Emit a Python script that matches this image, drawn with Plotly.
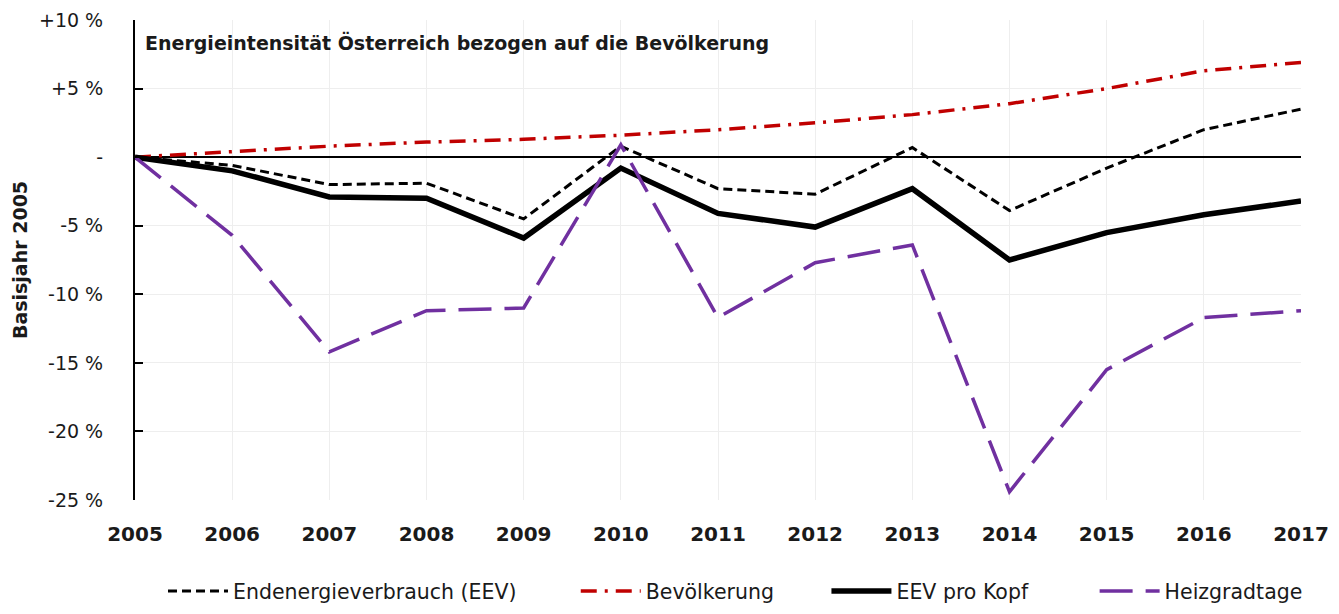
import plotly.graph_objects as go

years = list(range(2005, 2018))
eev = [0, -0.6, -2.0, -1.9, -4.5, 0.8, -2.3, -2.7, 0.7, -3.9, -0.8, 2.0, 3.5]
bevoelkerung = [0, 0.4, 0.8, 1.1, 1.3, 1.6, 2.0, 2.5, 3.1, 3.9, 5.0, 6.3, 6.9]
eev_pro_kopf = [0, -1.0, -2.9, -3.0, -5.9, -0.8, -4.1, -5.1, -2.3, -7.5, -5.5, -4.2, -3.2]
heizgradtage = [0, -5.7, -14.2, -11.2, -11.0, 0.9, -11.7, -7.7, -6.4, -24.4, -15.5, -11.7, -11.2]

y_tickvals = [-25, -20, -15, -10, -5, 0, 5, 10]
y_ticktext = ["-25 %", "-20 %", "-15 %", "-10 %", "-5 %", "-", "+5 %", "+10 %"]

FONT = "DejaVu Sans"
TXT = "#1a1a1a"

fig = go.Figure()
fig.add_trace(go.Scatter(x=years, y=eev, mode="lines", name="Endenergieverbrauch (EEV)",
                         legend="legend",
                         line=dict(color="black", width=3, dash="9px,5px")))
fig.add_trace(go.Scatter(x=years, y=bevoelkerung, mode="lines", name="Bevölkerung",
                         legend="legend2",
                         line=dict(color="#C00000", width=3.5, dash="16px,8px,3px,8px")))
fig.add_trace(go.Scatter(x=years, y=eev_pro_kopf, mode="lines", name="EEV pro Kopf",
                         legend="legend3",
                         line=dict(color="black", width=5.5)))
fig.add_trace(go.Scatter(x=years, y=heizgradtage, mode="lines", name="Heizgradtage",
                         legend="legend4",
                         line=dict(color="#7030A0", width=3.5, dash="33px,13px")))

# plot area: 127..1293 px (1166 px wide) in figure coordinates
leg_common = dict(orientation="h", yanchor="middle", y=-0.19, xanchor="left",
                  font=dict(family=FONT, size=20.5, color=TXT), itemwidth=60,
                  bgcolor="rgba(0,0,0,0)", borderwidth=0)

fig.update_layout(
    width=1323, height=598,
    margin=dict(l=127, r=30, t=12, b=106, autoexpand=False),
    paper_bgcolor="white", plot_bgcolor="white",
    font=dict(family=FONT, size=18, color=TXT),
    showlegend=True,
    legend=dict(x=0.024, **leg_common),
    legend2=dict(x=0.378, **leg_common),
    legend3=dict(x=0.593, **leg_common),
    legend4=dict(x=0.823, **leg_common),
    annotations=[dict(text="<b>Energieintensität Österreich bezogen auf die Bevölkerung</b>",
                      x=0.0069, y=0.954, xref="paper", yref="paper", xanchor="left", yanchor="middle",
                      showarrow=False, font=dict(family=FONT, size=19, color=TXT))],
    xaxis=dict(range=[2005, 2017], tickmode="array", tickvals=years,
               ticktext=[f"<b>{y}</b>" for y in years],
               showgrid=True, gridcolor="#eeeeee", gridwidth=1,
               showline=False, zeroline=False, ticks="", ticklabelstandoff=20,
               tickfont=dict(family=FONT, size=20, color=TXT)),
    yaxis=dict(range=[-25, 10], tickmode="array", tickvals=y_tickvals, ticktext=y_ticktext,
               showgrid=True, gridcolor="#eeeeee", gridwidth=1,
               showline=True, linecolor="black", linewidth=2,
               ticks="inside", ticklen=8, tickcolor="black", tickwidth=2,
               ticklabelstandoff=26,
               zeroline=True, zerolinecolor="black", zerolinewidth=1.5,
               title=dict(text="<b>Basisjahr 2005</b>", standoff=6,
                          font=dict(family=FONT, size=19, color=TXT)),
               tickfont=dict(family=FONT, size=19, color=TXT)),
)

fig.write_html("out.html")
